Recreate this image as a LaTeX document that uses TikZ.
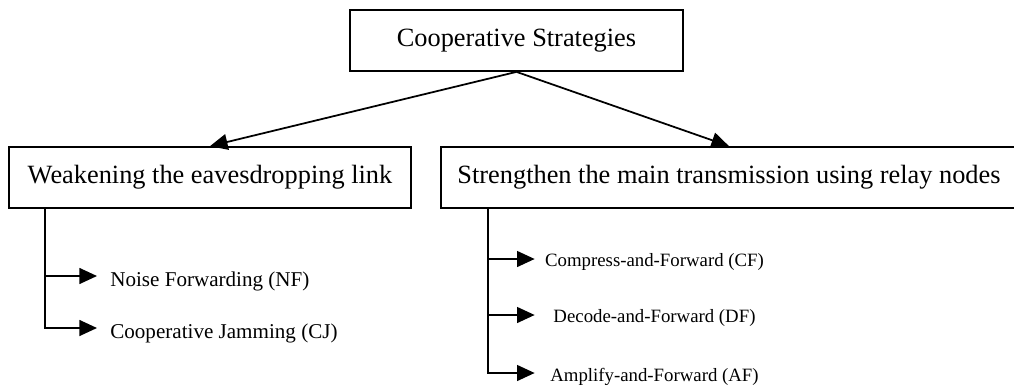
\documentclass[tikz,border=0pt]{standalone}
\usepackage{fontspec}
\setmainfont{Liberation Serif}
\usetikzlibrary{arrows.meta}

\begin{document}
\begin{tikzpicture}[x=0.02cm, y=-0.02cm,
    main_box/.style={rectangle,draw,line width=1pt,minimum height=1.22cm,inner sep=0pt,font=\fontsize{15}{18}\selectfont},
    leaf_left/.style={anchor=west,inner xsep=7.4pt,inner ysep=0pt,text height=15pt,text depth=2.6pt,font=\fontsize{12}{14}\selectfont},
    leaf_right/.style={minimum width=4.78cm,inner sep=0pt,text height=11.4pt,text depth=2.3pt,font=\fontsize{10.7}{13}\selectfont},
    arrow_line/.style={line width=1pt,-{Triangle[length=10pt,width=9pt]}}]

    \useasboundingbox (0,0) rectangle (1014,389);

    \node[main_box, minimum width=6.66cm] (top) at (516.5,40.5) {Cooperative Strategies};
    \node[main_box, minimum width=8.04cm] (weak) at (210,177.5) {Weakening the eavesdropping link};
    \node[main_box, minimum width=11.52cm] (strong) at (729,177.5) {Strengthen the main transmission using relay nodes};
    \draw[arrow_line] (top.south) -- (weak.north);
    \draw[arrow_line] (top.south) -- (strong.north);

    \coordinate (w0) at (45,208);
    \node[leaf_left] (nf) at (97,276) {Noise Forwarding (NF)};
    \node[leaf_left] (cj) at (97,328) {Cooperative Jamming (CJ)};
    \draw[arrow_line] (w0) |- (nf.west);
    \draw[arrow_line] (w0) |- (cj.west);

    \coordinate (s0) at (488,208);
    \node[leaf_right] (cf) at (654.5,259) {Compress-and-Forward (CF)};
    \node[leaf_right] (df) at (654.5,315) {Decode-and-Forward (DF)};
    \node[leaf_right] (af) at (654.5,373) {Amplify-and-Forward (AF)};
    \draw[arrow_line] (s0) |- (cf.west);
    \draw[arrow_line] (s0) |- (df.west);
    \draw[arrow_line] (s0) |- (af.west);
\end{tikzpicture}
\end{document}
